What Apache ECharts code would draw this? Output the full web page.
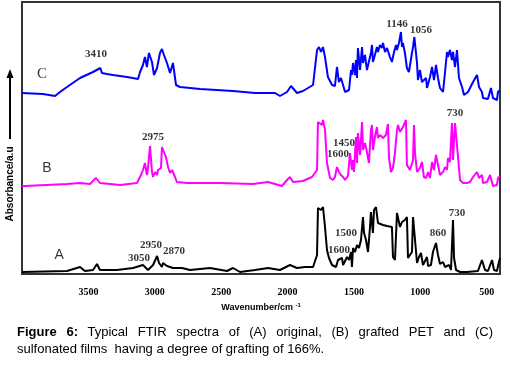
<!DOCTYPE html>
<html><head><meta charset="utf-8">
<script src="https://cdn.jsdelivr.net/npm/echarts@6.0.0/dist/echarts.min.js"></script>
<style>
html,body{margin:0;padding:0;background:#fff;}
#chart{position:absolute;left:0;top:0;width:510px;height:367px;}
.cap{position:absolute;left:17px;width:476px;font-family:"Liberation Sans",Arial,sans-serif;font-size:13px;line-height:17px;color:#000;}
#cap1{top:323px;text-align:justify;text-align-last:justify;}
#cap2{top:340px;white-space:nowrap;}
</style></head>
<body>
<div id="chart"></div>
<div class="cap" id="cap1"><b>Figure 6:</b> Typical FTIR spectra of (A) original, (B) grafted PET and (C)</div>
<div class="cap" id="cap2">sulfonated films&nbsp; having a degree of grafting of 166%.</div>
<script>
// Wavenumber (cm-1) vs absorbance (arbitrary units, curves offset)
const spectrumC = [[4000,181],[3842,180],[3827,181],[3751,178],[3714,182],[3661,187],[3563,196],[3465,202],[3410,206],[3398,201],[3360,200],[3315,199],[3209,197],[3126,195],[3111,202],[3089,209],[3074,217],[3059,207],[3044,221],[3021,212],[3006,199],[2983,206],[2961,221],[2946,225],[2931,219],[2908,211],[2885,201],[2863,211],[2840,189],[2810,187],[2659,185],[2411,183],[2245,181],[2095,181],[2057,178],[2004,182],[1974,188],[1929,181],[1884,183],[1808,189],[1793,187],[1778,224],[1763,227],[1748,222],[1733,227],[1718,217],[1696,197],[1665,189],[1643,188],[1628,207],[1613,192],[1598,196],[1582,189],[1567,182],[1537,184],[1522,204],[1515,199],[1507,211],[1492,199],[1485,214],[1477,196],[1470,226],[1454,204],[1439,227],[1432,211],[1417,219],[1402,204],[1387,202],[1372,221],[1364,229],[1357,212],[1342,219],[1327,227],[1319,222],[1304,229],[1289,226],[1281,231],[1266,222],[1251,226],[1229,217],[1214,212],[1198,222],[1183,229],[1176,224],[1161,231],[1146,242],[1138,227],[1131,231],[1116,221],[1101,206],[1086,202],[1063,221],[1055,227],[1045,237],[1025,211],[1018,194],[1003,204],[988,192],[973,191],[957,196],[950,186],[927,197],[912,207],[897,194],[882,209],[867,196],[852,186],[829,182],[799,222],[792,217],[777,224],[762,214],[754,222],[739,207],[724,224],[709,196],[686,187],[671,179],[641,182],[603,192],[573,199],[558,187],[536,182],[528,176],[491,175],[468,186],[453,176],[438,177],[423,174],[415,182],[400,184]];
const spectrumB = [[4000,88],[3977,88],[3661,90],[3563,91],[3488,90],[3443,96],[3413,91],[3337,90],[3262,89],[3134,91],[3104,99],[3089,104],[3074,111],[3059,99],[3051,106],[3036,128],[3021,102],[3013,97],[2998,102],[2983,99],[2976,104],[2953,106],[2946,127],[2931,129],[2916,117],[2900,107],[2885,101],[2870,104],[2863,105],[2848,97],[2833,92],[2757,91],[2509,91],[2260,90],[2147,92],[2042,88],[2004,94],[1982,97],[1959,92],[1884,93],[1816,97],[1778,104],[1771,152],[1756,153],[1741,149],[1733,154],[1718,144],[1703,111],[1680,96],[1658,94],[1643,97],[1628,107],[1613,102],[1598,99],[1582,97],[1567,94],[1545,98],[1530,121],[1515,104],[1507,114],[1500,102],[1485,137],[1477,111],[1470,141],[1454,119],[1439,152],[1432,124],[1417,131],[1402,122],[1387,111],[1372,144],[1364,149],[1357,124],[1342,137],[1327,147],[1319,136],[1304,139],[1281,136],[1259,139],[1244,150],[1236,116],[1221,102],[1206,106],[1191,121],[1176,144],[1168,149],[1153,142],[1131,147],[1108,154],[1101,109],[1078,104],[1055,114],[1048,149],[1040,121],[1025,102],[1003,106],[988,112],[973,97],[957,96],[942,102],[927,96],[912,112],[897,104],[882,119],[867,109],[852,99],[829,102],[814,107],[799,104],[792,116],[777,112],[762,151],[754,114],[739,151],[724,152],[716,117],[701,94],[678,91],[649,91],[626,92],[603,97],[573,102],[558,96],[536,99],[528,91],[498,92],[475,99],[453,88],[423,89],[415,96],[400,98]];
const spectrumA = [[4000,2],[3661,3],[3563,7],[3526,3],[3465,4],[3435,10],[3413,4],[3285,4],[3164,6],[3089,9],[3051,4],[3013,9],[2983,18],[2968,11],[2946,7],[2938,11],[2908,8],[2863,6],[2795,6],[2735,4],[2584,6],[2456,3],[2411,6],[2358,2],[2245,4],[2147,6],[2057,4],[1982,9],[1929,6],[1869,7],[1808,7],[1778,19],[1771,66],[1748,64],[1733,67],[1718,47],[1703,24],[1688,16],[1665,9],[1650,11],[1635,7],[1620,14],[1605,12],[1590,16],[1582,9],[1552,17],[1537,14],[1522,22],[1515,7],[1507,26],[1492,22],[1477,29],[1462,26],[1447,34],[1432,57],[1424,41],[1409,34],[1394,22],[1379,47],[1372,62],[1357,41],[1349,64],[1334,67],[1319,51],[1304,49],[1281,49],[1266,47],[1251,48],[1236,46],[1214,47],[1206,17],[1191,14],[1176,61],[1168,61],[1153,47],[1138,52],[1131,52],[1116,54],[1101,57],[1093,16],[1078,14],[1063,22],[1055,57],[1040,34],[1025,11],[1010,17],[995,21],[980,9],[965,9],[950,17],[942,8],[920,9],[905,22],[897,21],[882,31],[867,19],[852,10],[829,12],[814,7],[799,6],[784,9],[769,4],[754,54],[746,16],[731,4],[701,2],[649,2],[566,3],[536,14],[513,4],[491,3],[460,14],[445,4],[423,3],[408,12],[400,16]];

// peak annotations: [text, wavenumber, absorbance]
const peakLabels = [['3410',3443,220],['1146',1176,250],['1056',995,244],['2975',3013,137],['1450',1575,131],['1600',1620,120],['730',739,161],['3050',3119,16],['2950',3029,29],['2870',2855,23],['1500',1560,41],['1600',1613,24],['860',867,41],['730',724,61]];
const curveLetters = [['C',3849,200,'serif'],['B',3812,106,'sans'],['A',3721,19,'sans']];
const xTickLabels = [500,1000,1500,2000,2500,3000,3500];

const chart = echarts.init(document.getElementById('chart'), null, {renderer:'canvas'});
const serif = '"Liberation Serif","Times New Roman",serif';
const sans = '"Liberation Sans",Arial,sans-serif';
const line = (name, data, color) => ({
  name, type:'line', data, symbol:'none', smooth:false, silent:true,
  lineStyle:{color, width:2}, z:3
});
chart.setOption({
  animation:false,
  backgroundColor:'#fff',
  grid:{left:22, top:2, width:478, height:272, show:true, borderColor:'#333', borderWidth:2, backgroundColor:'transparent'},
  xAxis:{
    type:'value', inverse:true, min:400, max:4000, interval:100,
    axisLine:{show:false}, axisTick:{show:false}, splitLine:{show:false},
    axisLabel:{margin:13, fontFamily:serif, fontWeight:'bold', fontSize:10, color:'#000',
      formatter: v => (xTickLabels.indexOf(v) >= 0 ? String(v) : '')},
    name:'Wavenumber/cm {sup|-1}', nameLocation:'middle', nameGap:23,
    nameTextStyle:{fontFamily:sans, fontWeight:'bold', fontSize:9, color:'#000',
      rich:{sup:{fontSize:6, fontWeight:'bold', fontFamily:sans, verticalAlign:'top', padding:[0,0,6,0]}}}
  },
  yAxis:{type:'value', min:0, max:272, show:false},
  series:[
    line('A', spectrumA, '#000000'),
    line('B', spectrumB, '#ff00ff'),
    line('C', spectrumC, '#0000ff'),
    {type:'scatter', symbolSize:0, silent:true, z:5,
      data: peakLabels.map(p => ({name:p[0], value:[p[1],p[2]]})),
      label:{show:true, position:'inside', formatter:'{b}', fontFamily:serif, fontWeight:'bold', fontSize:11, color:'#000'}},
    {type:'scatter', symbolSize:0, silent:true, z:5,
      data: curveLetters.map(p => ({name:p[0], value:[p[1],p[2]],
        label:{fontFamily: p[3]==='serif' ? serif : sans, fontSize: p[3]==='serif' ? 15 : 14}})),
      label:{show:true, position:'inside', formatter:'{b}', color:'#000'}}
  ],
  graphic:[
    {type:'line', shape:{x1:10, y1:139, x2:10, y2:76}, style:{stroke:'#000', lineWidth:2}},
    {type:'polygon', shape:{points:[[10,69],[6.5,78],[13.5,78]]}, style:{fill:'#000'}},
    {type:'text', x:10, y:184, rotation:Math.PI/2,
      style:{text:'Absorbance/a.u', fontFamily:sans, fontWeight:'bold', fontSize:10, fill:'#000', align:'center', verticalAlign:'middle'}}
  ]
});
</script>
</body></html>
